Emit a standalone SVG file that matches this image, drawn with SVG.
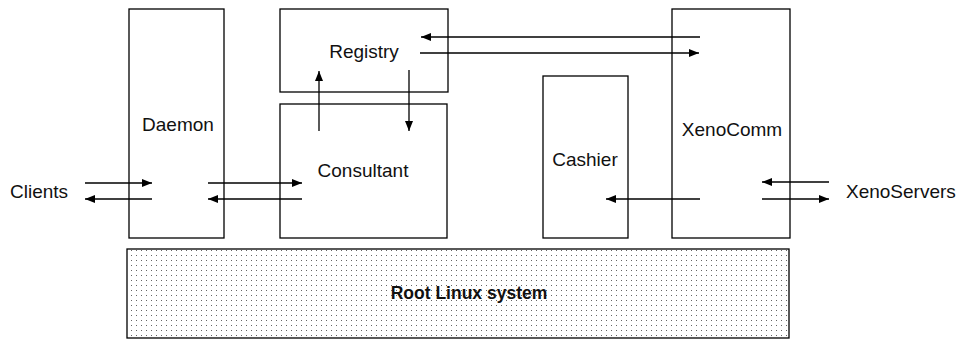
<svg xmlns="http://www.w3.org/2000/svg" width="961" height="339" viewBox="0 0 961 339">
  <style>
    .box { fill: #fff; stroke: #000; stroke-width: 1.3; }
    .lbl { font-family: "Liberation Sans", Arial, sans-serif; font-size: 19px; fill: #111; }
    .bold { font-weight: bold; font-size: 17.5px; }
    .conn line { stroke: #000; stroke-width: 1.3; marker-end: url(#head); }
  </style>
  <defs>
    <marker id="head" viewBox="0 0 10 8" refX="10" refY="4" markerWidth="10" markerHeight="8" markerUnits="userSpaceOnUse" orient="auto">
      <path d="M0,0 L10,4 L0,8 Z" fill="#000"/>
    </marker>
    <pattern id="dots" width="5" height="5" patternUnits="userSpaceOnUse">
      <rect x="1" y="0" width="1" height="1" fill="#666"/>
    </pattern>
  </defs>

  <!-- system base -->
  <g id="root">
    <rect x="127" y="249" width="662" height="89" fill="url(#dots)" stroke="#000" stroke-width="1.3"/>
    <text class="lbl bold" x="469" y="299" text-anchor="middle">Root Linux system</text>
  </g>

  <g id="daemon">
    <rect class="box" x="129" y="9" width="95" height="229"/>
    <text class="lbl" x="178" y="131" text-anchor="middle">Daemon</text>
  </g>

  <g id="registry">
    <rect class="box" x="280" y="9" width="168" height="83"/>
    <text class="lbl" x="364" y="58" text-anchor="middle">Registry</text>
  </g>

  <g id="consultant">
    <rect class="box" x="280" y="104" width="167" height="134"/>
    <text class="lbl" x="363" y="177" text-anchor="middle">Consultant</text>
  </g>

  <g id="cashier">
    <rect class="box" x="543" y="76" width="85" height="162"/>
    <text class="lbl" x="585" y="166" text-anchor="middle">Cashier</text>
  </g>

  <g id="xenocomm">
    <rect class="box" x="672" y="9" width="118" height="229"/>
    <text class="lbl" x="732" y="136" text-anchor="middle">XenoComm</text>
  </g>

  <g id="clients">
    <text class="lbl" x="10" y="198">Clients</text>
  </g>

  <g id="xenoservers">
    <text class="lbl" x="846" y="198">XenoServers</text>
  </g>

  <g class="conn">
    <line x1="85" y1="183" x2="152" y2="183"/>
    <line x1="152" y1="199" x2="85" y2="199"/>
    <line x1="208" y1="183" x2="302" y2="183"/>
    <line x1="302" y1="199" x2="208" y2="199"/>
    <line x1="700" y1="37" x2="421" y2="37"/>
    <line x1="420" y1="53" x2="699" y2="53"/>
    <line x1="319" y1="131" x2="319" y2="71"/>
    <line x1="409" y1="70" x2="409" y2="131"/>
    <line x1="700" y1="199" x2="606" y2="199"/>
    <line x1="829" y1="182" x2="762" y2="182"/>
    <line x1="762" y1="199" x2="829" y2="199"/>
  </g>
</svg>
